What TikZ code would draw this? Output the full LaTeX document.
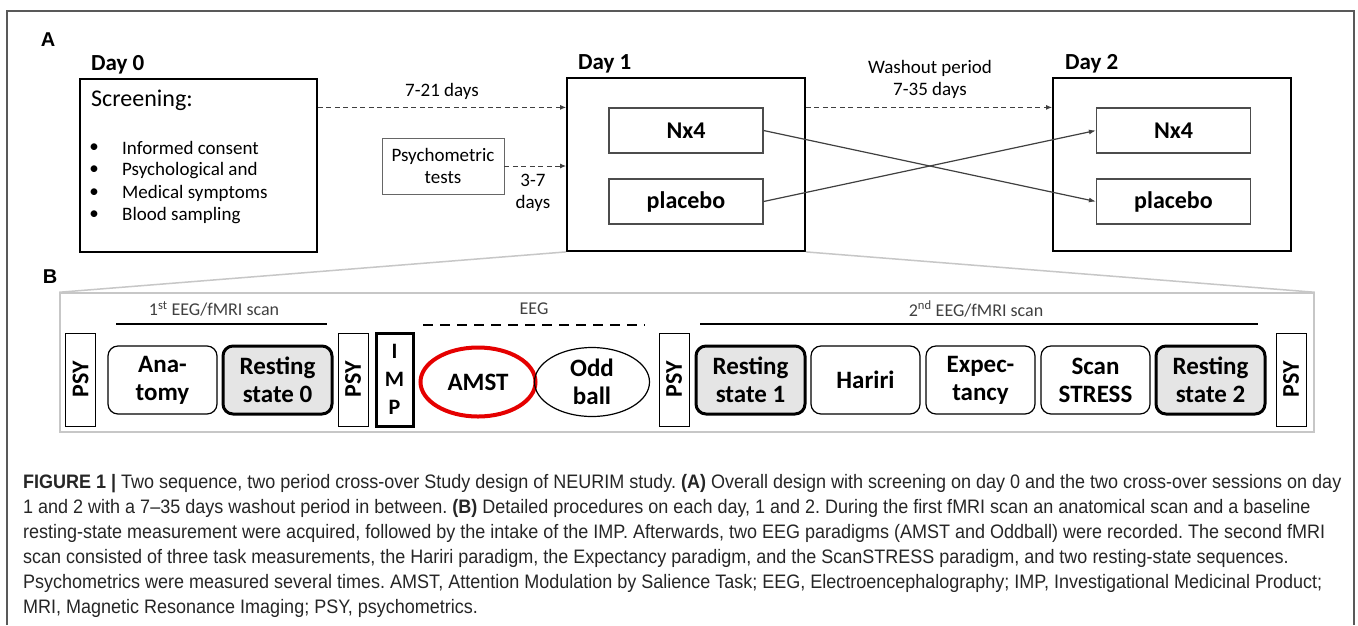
\documentclass[tikz,border=0pt]{standalone}
\usepackage{fontspec}
\setmainfont{Carlito}
\newfontfamily\capfont[FakeStretch=0.923]{Liberation Sans}
\newfontfamily\panelfont{Liberation Sans}
\usetikzlibrary{arrows.meta,shapes.geometric}
\frenchspacing

\begin{document}
\begin{tikzpicture}[x=1pt,y=-1pt,
    txt/.style={inner sep=0pt,font=\fontsize{19}{22}\selectfont},
    daylabel/.style={anchor=base west,inner sep=0pt,font=\bfseries\fontsize{23}{27}\selectfont},
    daybox/.style={draw,line width=1.8pt,inner sep=0pt,minimum width=237pt,minimum height=173pt},
    armbox/.style={draw=black!70,line width=1.2pt,inner sep=0pt,minimum width=154pt,minimum height=45pt,font=\bfseries\fontsize{24}{27}\selectfont},
    waitline/.style={black!75,line width=1pt,dash pattern=on 5pt off 3.5pt,-{Latex[length=6pt,width=5pt]}},
    crossline/.style={black!75,line width=1.2pt,-{Latex[length=7pt,width=5pt]}},
    zoomline/.style={black!22,line width=1.5pt},
    psybox/.style={draw,line width=1pt,rotate=90,inner sep=0pt,minimum width=93pt,minimum height=30pt,font=\bfseries\fontsize{24}{24}\selectfont},
    stepbox/.style={draw,rounded corners=10pt,line width=1.2pt,inner sep=0pt,minimum width=109pt,minimum height=68pt,align=center,font=\bfseries\fontsize{25}{28}\selectfont},
    restbox/.style={stepbox,fill=black!10,line width=3pt},
    eegbox/.style={ellipse,draw,line width=1.2pt,inner sep=0pt,minimum width=115pt,minimum height=69pt,align=center,font=\bfseries\fontsize{25}{28}\selectfont},
    header/.style={inner sep=0pt,text=black!75,font=\fontsize{18}{20}\selectfont}
  ]
\useasboundingbox (0,0) rectangle (1358,625);
\fill[white] (0,0) rectangle (1358,625);
\draw[black!65,line width=1.2pt] (7,625) -- (7,11) -- (1354,11) -- (1354,625);

% panel A
\node[font=\panelfont\bfseries\fontsize{20}{20}\selectfont] (labA) at (48,40) {A};

\node[daybox] (day0) at (198.5,165.5) {};
\node[daybox,minimum width=238pt] (day1) at (686,164.5) {};
\node[daybox,minimum width=238pt] (day2) at (1172,164.5) {};
\node[daylabel] (d0) at (91,70) {Day 0};
\node[daylabel] (d1) at (578,69) {Day 1};
\node[daylabel] (d2) at (1065,69) {Day 2};

\node[anchor=base west,inner sep=0pt,font=\fontsize{24}{28}\selectfont] (scr) at (91,106) {Screening:};
\foreach \t [count=\i] in {Informed consent,Psychological and,Medical symptoms,Blood sampling}{
  \node[txt] (dot\i) at (94,125.5+22.5*\i) {\textbullet};
  \node[txt,anchor=west] (item\i) at (122,125.5+22.5*\i) {\t};
}

\node[armbox] (n1) at (686,130.5) {Nx4};
\node[armbox] (p1) at (686,201.5) {placebo};
\node[armbox] (n2) at (1173.5,130.5) {Nx4};
\node[armbox] (p2) at (1173.5,201.5) {placebo};

\node[draw=black!60,line width=0.8pt,inner sep=0pt,minimum width=122pt,minimum height=56pt,align=center,font=\fontsize{19}{22}\selectfont] (psych) at (443,166) {Psychometric\\tests};

\draw[waitline] (day0.east |- n1.north) -- (day1.west |- n1.north);
\draw[waitline] (psych.east) -- (day1.west |- psych.east);
\draw[waitline] (day1.east |- n1.north) -- (day2.west |- n2.north);
\node[txt] (wait1) at (442,91) {7-21 days};
\node[txt,align=center] (wait2) at (533,193) {3-7\\days};
\node[txt,align=center] (wash) at (930,79) {Washout period\\7-35 days};

\draw[crossline] (n1.east) -- (p2.west);
\draw[crossline] (p1.east) -- (n2.west);

% panel B
\node[font=\panelfont\bfseries\fontsize{20}{20}\selectfont] (labB) at (50,277) {B};
\node[draw=black!22,line width=1.5pt,inner sep=0pt,minimum width=1254pt,minimum height=139pt] (boxB) at (687,362.5) {};
\draw[zoomline] (day1.south west) -- (boxB.north west);
\draw[zoomline] (day1.south east) -- (boxB.north east);

\node[header] (h1) at (214,309) {1\textsuperscript{st} EEG/fMRI scan};
\node[header] (h2) at (534,309) {EEG};
\node[header] (h3) at (976,309) {2\textsuperscript{nd} EEG/fMRI scan};
\draw[line width=2.5pt] (116,324) -- (327,324);
\draw[line width=2.5pt,dash pattern=on 10pt off 7pt] (423,325) -- (645,325);
\draw[line width=2.5pt] (700,324) -- (1258,324);

\node[psybox] (psy1) at (80.5,379.5) {PSY};
\node[psybox] (psy2) at (353,379.5) {PSY};
\node[psybox] (psy3) at (674,379.5) {PSY};
\node[psybox] (psy4) at (1291,379.5) {PSY};
\node[draw,line width=3pt,inner sep=0pt,minimum width=37pt,minimum height=93pt,align=center,font=\bfseries\fontsize{22}{28}\selectfont] (imp) at (394.5,379.5) {I\\M\\P};

\node[stepbox] (anat) at (162.5,380) {Ana-\\tomy};
\node[restbox] (rest0) at (277.5,380) {Resting\\state 0};
\node[eegbox,draw=red!90!black,line width=4pt] (amst) at (478,382) {AMST};
\node[eegbox] (odd) at (592,382) {Odd\\ball};
\node[restbox] (rest1) at (750.5,380) {Resting\\state 1};
\node[stepbox] (hariri) at (865.5,380) {Hariri};
\node[stepbox] (expect) at (980.5,380) {Expec-\\tancy};
\node[stepbox] (stress) at (1095.5,380) {Scan\\STRESS};
\node[restbox] (rest2) at (1210.5,380) {Resting\\state 2};

% caption
\node[anchor=north west,inner sep=0pt,align=left,text=black!85,font=\capfont\fontsize{19.5}{25}\selectfont] (caption) at (23,474) {%
\textbf{FIGURE 1 |} Two sequence, two period cross-over Study design of NEURIM study. \textbf{(A)} Overall design with screening on day 0 and the two cross-over sessions on day\\
1 and 2 with a 7–35 days washout period in between. \textbf{(B)} Detailed procedures on each day, 1 and 2. During the first fMRI scan an anatomical scan and a baseline\\
resting-state measurement were acquired, followed by the intake of the IMP. Afterwards, two EEG paradigms (AMST and Oddball) were recorded. The second fMRI\\
scan consisted of three task measurements, the Hariri paradigm, the Expectancy paradigm, and the ScanSTRESS paradigm, and two resting-state sequences.\\
Psychometrics were measured several times. AMST, Attention Modulation by Salience Task; EEG, Electroencephalography; IMP, Investigational Medicinal Product;\\
MRI, Magnetic Resonance Imaging; PSY, psychometrics.};
\end{tikzpicture}
\end{document}
